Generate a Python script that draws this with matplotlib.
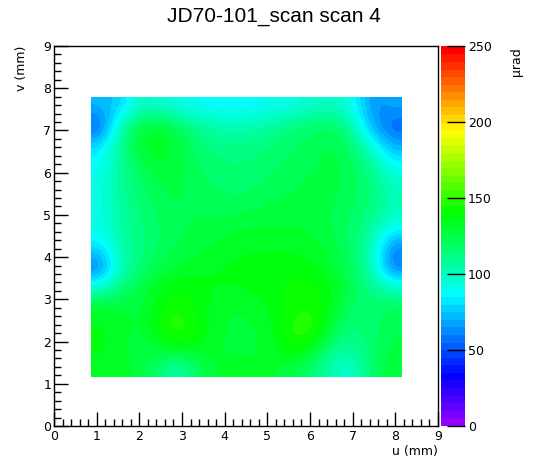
import colorsys
import numpy as np
import matplotlib
matplotlib.use("Agg")
import matplotlib.pyplot as plt
from matplotlib.colors import ListedColormap, BoundaryNorm
from matplotlib.ticker import MultipleLocator

plt.rcParams['font.family'] = ['DejaVu Sans']

title = "JD70-101_scan scan 4"
x_label = "u (mm)"
y_label = "v (mm)"
z_label = "µrad"

# data extent of the scanned region (mm)
u_range = [0.87, 8.15]
v_range = [1.17, 7.80]

# coarse map of deflection values (µrad), rows from top (v=7.56) to bottom (v=1.41),
# columns from left (u=1.10) to right (u=7.92)
row_v756 = [72, 75, 100, 95, 92, 88, 86, 86, 88, 90, 92, 98, 100, 90, 62, 68]
row_v709 = [50, 105, 128, 135, 122, 110, 105, 103, 105, 110, 115, 120, 122, 105, 68, 52]
row_v661 = [82, 110, 130, 135, 128, 118, 113, 112, 113, 117, 120, 123, 127, 118, 95, 70]
row_v614 = [88, 108, 122, 130, 128, 120, 117, 115, 117, 120, 122, 125, 127, 122, 110, 90]
row_v567 = [92, 108, 118, 125, 127, 122, 120, 118, 120, 122, 125, 127, 127, 122, 115, 100]
row_v519 = [92, 106, 115, 122, 125, 124, 122, 122, 124, 127, 128, 128, 125, 120, 115, 102]
row_v472 = [92, 106, 114, 120, 124, 126, 128, 130, 130, 130, 130, 128, 124, 118, 108, 90]
row_v424 = [82, 104, 113, 120, 125, 128, 131, 133, 134, 134, 134, 132, 127, 118, 100, 60]
row_v377 = [55, 100, 115, 125, 130, 133, 135, 137, 138, 138, 138, 136, 130, 120, 100, 55]
row_v330 = [95, 115, 125, 135, 140, 138, 135, 135, 137, 140, 142, 142, 135, 122, 112, 98]
row_v282 = [132, 130, 128, 138, 145, 138, 132, 130, 132, 137, 143, 145, 132, 118, 118, 122]
row_v235 = [136, 133, 128, 143, 152, 140, 132, 128, 130, 135, 150, 150, 125, 113, 118, 125]
row_v188 = [136, 133, 125, 130, 140, 135, 130, 128, 128, 135, 145, 135, 112, 110, 118, 126]
row_v141 = [134, 133, 128, 118, 100, 122, 132, 132, 132, 130, 125, 115, 100, 95, 120, 130]

z_grid = np.array([row_v756, row_v709, row_v661, row_v614, row_v567, row_v519, row_v472,
                   row_v424, row_v377, row_v330, row_v282, row_v235, row_v188, row_v141],
                  dtype=float)

z_min, z_max = 0, 250
z_ticks = [0, 50, 100, 150, 200, 250]

# ROOT "pretty" palette: 50 colours, violet -> red
n_col = 50
cols = [colorsys.hls_to_rgb((280 - (i + 1) * 280 / n_col) / 360.0, 0.5, 1.0) for i in range(n_col)]
cmap = ListedColormap(cols)
norm = BoundaryNorm(np.linspace(z_min, z_max, n_col + 1), n_col)

W, H = 548, 474
fig = plt.figure(figsize=(W / 100, H / 100), dpi=100)
ax = fig.add_axes([54 / W, (H - 426) / H, (438 - 54) / W, (426 - 46) / H])
cax = fig.add_axes([441 / W, (H - 426) / H, (465 - 441) / W, (426 - 46) / H])

ax.imshow(z_grid, cmap=cmap, norm=norm, extent=[u_range[0], u_range[1], v_range[0], v_range[1]],
          origin='upper', aspect='auto', interpolation='bicubic', interpolation_stage='data')
ax.set_xlim(0, 9)
ax.set_ylim(0, 9)
ax.xaxis.set_major_locator(MultipleLocator(1))
ax.xaxis.set_minor_locator(MultipleLocator(0.2))
ax.yaxis.set_major_locator(MultipleLocator(1))
ax.yaxis.set_minor_locator(MultipleLocator(0.2))
ax.tick_params(which='both', direction='in', top=False, right=False, labelsize=9, width=1, pad=3)
ax.tick_params(which='major', length=10)
ax.tick_params(which='minor', length=5)
ax.tick_params(axis='y', pad=2)
for s in ax.spines.values():
    s.set_linewidth(1)

fig.text(438 / W, (H - 452) / H, x_label, ha='right', va='center', fontsize=9)
fig.text(22 / W, (H - 46) / H, y_label, ha='center', va='top', rotation=90, fontsize=9)
fig.text(274 / W, (H - 17) / H, title, ha='center', va='center', fontsize=15,
         family=['Liberation Sans', 'DejaVu Sans'])

# colour bar
zz = np.linspace(z_min, z_max, 501).reshape(-1, 1)
cax.imshow(zz, cmap=cmap, norm=norm, extent=[0, 1, z_min, z_max], origin='lower', aspect='auto',
           interpolation='nearest')
cax.set_xlim(0, 1)
cax.set_ylim(z_min, z_max)
cax.set_xticks([])
cax.yaxis.tick_right()
cax.set_yticks(z_ticks)
cax.set_yticklabels([str(t) for t in z_ticks])
cax.tick_params(axis='y', direction='in', length=13, width=1, labelsize=9, pad=2)
for s in cax.spines.values():
    s.set_visible(False)
fig.text(516 / W, (H - 47) / H, z_label, ha='center', va='top', rotation=90, fontsize=9)

fig.savefig("out.png", dpi=100)
